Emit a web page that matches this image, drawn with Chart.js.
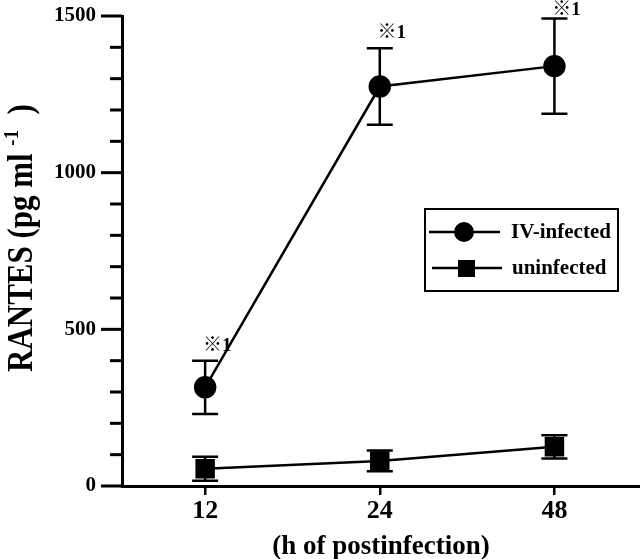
<!DOCTYPE html>
<html>
<head>
<meta charset="utf-8">
<script src="https://cdn.jsdelivr.net/npm/chart.js@4/dist/chart.umd.min.js"></script>
<style>
  html, body { margin: 0; padding: 0; background: #fff; }
  #wrap { width: 640px; height: 559px; }
</style>
</head>
<body>
<div id="wrap"><canvas id="rantes" width="640" height="559"></canvas></div>
<script>
// --- data ---
const hours = ["12", "24", "48"];
const ivMean = [315, 1275, 1340];
const ivErr = [85, 122, 152];
const unMean = [55, 80, 125];
const unErr = [38, 33, 37];
const yTicks = [0, 500, 1000, 1500];
const marks = ["※1", "※1", "※1"];

const SERIF = "'Liberation Serif', 'Times New Roman', serif";
const toPoints = (vals) => vals.map((v, i) => ({ x: i, y: v }));

// error bars, star marks, y minor ticks, y title, legend
const extras = {
  id: "extras",
  beforeDatasetsDraw(chart) {
    const { ctx, scales: { x, y } } = chart;
    ctx.save();
    ctx.strokeStyle = "#000";
    ctx.lineWidth = 2.5;
    [[ivMean, ivErr], [unMean, unErr]].forEach(([m, e]) => {
      m.forEach((v, i) => {
        const px = x.getPixelForValue(i);
        const top = y.getPixelForValue(v + e[i]);
        const bot = y.getPixelForValue(v - e[i]);
        ctx.beginPath();
        ctx.moveTo(px, top); ctx.lineTo(px, bot);
        ctx.moveTo(px - 13, top); ctx.lineTo(px + 13, top);
        ctx.moveTo(px - 13, bot); ctx.lineTo(px + 13, bot);
        ctx.stroke();
      });
    });
    ctx.restore();
  },
  afterDraw(chart) {
    const { ctx, scales: { x, y } } = chart;
    ctx.save();
    ctx.fillStyle = "#000";
    ctx.strokeStyle = "#000";

    // y ticks: long at labelled values, short every 100
    ctx.lineWidth = 3;
    for (let v = 0; v <= 1500; v += 100) {
      const py = y.getPixelForValue(v);
      const len = yTicks.includes(v) ? 21 : 12;
      ctx.beginPath();
      ctx.moveTo(y.right, py);
      ctx.lineTo(y.right - len, py);
      ctx.stroke();
    }

    // significance marks above the IV-infected error bars
    ctx.font = `bold 19px ${SERIF}, 'Noto Sans CJK JP'`;
    ctx.textAlign = "center";
    ctx.textBaseline = "middle";
    marks.forEach((t, i) => {
      const px = x.getPixelForValue(i);
      const py = y.getPixelForValue(ivMean[i] + ivErr[i]);
      ctx.fillText(t, px + 12, Math.max(10, py - 15));
    });

    // rotated y title, condensed, with superscript
    ctx.save();
    ctx.translate(32, 238);
    ctx.rotate(-Math.PI / 2);
    ctx.scale(0.86, 1);
    ctx.textBaseline = "alphabetic";
    ctx.textAlign = "left";
    const big = `bold 36px ${SERIF}`;
    const small = `bold 22px ${SERIF}`;
    const parts = [["RANTES (pg ml ", big, 0], ["-1", small, -14], ["  )", big, 0]];
    let total = 0;
    parts.forEach(([t, f]) => { ctx.font = f; total += ctx.measureText(t).width; });
    let cx = -total / 2;
    parts.forEach(([t, f, dy]) => {
      ctx.font = f;
      ctx.fillText(t, cx, dy);
      cx += ctx.measureText(t).width;
    });
    ctx.restore();

    // legend box
    ctx.lineWidth = 2;
    ctx.strokeRect(425, 209, 193, 82);
    ctx.font = `bold 21px ${SERIF}`;
    ctx.textAlign = "left";
    ctx.textBaseline = "middle";
    ctx.lineWidth = 2.5;
    ctx.beginPath(); ctx.moveTo(429, 232); ctx.lineTo(500, 232); ctx.stroke();
    ctx.beginPath(); ctx.arc(464, 232, 10, 0, Math.PI * 2); ctx.fill();
    ctx.fillText("IV-infected", 511, 233);
    ctx.beginPath(); ctx.moveTo(432, 268); ctx.lineTo(502, 268); ctx.stroke();
    ctx.fillRect(458, 260, 17, 17);
    ctx.fillText("uninfected", 512, 269);
    ctx.restore();
  },
};

new Chart(document.getElementById("rantes"), {
  type: "line",
  data: {
    datasets: [
      {
        label: "IV-infected",
        data: toPoints(ivMean),
        borderColor: "#000",
        backgroundColor: "#000",
        borderWidth: 2.5,
        pointStyle: "circle",
        pointRadius: 10,
        pointHoverRadius: 10,
        clip: false,
      },
      {
        label: "uninfected",
        data: toPoints(unMean),
        borderColor: "#000",
        backgroundColor: "#000",
        borderWidth: 2.5,
        pointStyle: "rect",
        pointRadius: 12,
        pointHoverRadius: 12,
        clip: false,
      },
    ],
  },
  options: {
    responsive: false,
    animation: false,
    events: [],
    layout: { autoPadding: false, padding: { top: 16, right: 0, left: 0, bottom: 0 } },
    plugins: { legend: { display: false }, tooltip: { enabled: false } },
    scales: {
      x: {
        type: "linear",
        min: -0.476,
        max: 2.49,
        afterBuildTicks: (s) => { s.ticks = hours.map((h, i) => ({ value: i })); },
        afterFit: (s) => { s.height = 73; s.paddingLeft = 0; s.paddingRight = 0; },
        ticks: {
          callback: (v) => hours[v],
          color: "#000",
          padding: 1,
          font: { family: SERIF, size: 26, weight: "bold" },
          maxRotation: 0,
        },
        grid: { display: true, drawOnChartArea: false, drawTicks: true, tickLength: 9, color: "#000", lineWidth: 2.5 },
        border: { display: true, color: "#000", width: 3 },
        title: {
          display: true,
          text: "(h of postinfection)",
          color: "#000",
          padding: { top: 0, bottom: 0 },
          font: { family: SERIF, size: 27, weight: "bold", lineHeight: 0.85 },
        },
      },
      y: {
        min: 0,
        max: 1500,
        afterBuildTicks: (s) => { s.ticks = yTicks.map((v) => ({ value: v })); },
        afterFit: (s) => { s.width = 122; s.paddingTop = 0; s.paddingBottom = 0; },
        ticks: {
          callback: (v) => String(v),
          color: "#000",
          padding: 26,
          font: { family: SERIF, size: 21, weight: "bold" },
        },
        grid: { display: false, drawTicks: false },
        border: { display: true, color: "#000", width: 3 },
      },
    },
  },
  plugins: [extras],
});
</script>
</body>
</html>
